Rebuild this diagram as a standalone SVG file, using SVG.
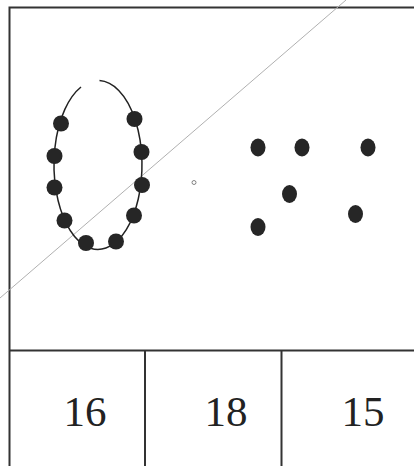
<svg xmlns="http://www.w3.org/2000/svg" width="414" height="466" viewBox="0 0 414 466">
<style>
.frame{fill:none;stroke:#333;stroke-width:2}
.dot{fill:#262626}
.num{font-family:"Liberation Serif",serif;font-size:43px;fill:#222;text-anchor:middle}
.guide{fill:none;stroke:#b0b0b0;stroke-width:1}
</style>
<rect width="414" height="466" fill="#fff"/>
<g id="frame">
<path class="frame" d="M9.5 470V7.5H416M9.5 350.5H416M145 350.5V470M281.5 350.5V470"/>
</g>
<g id="connectors">
<line class="guide" x1="346" y1="0" x2="0" y2="298"/>
</g>
<g id="ellipse-group">
<path fill="none" stroke="#222" stroke-width="1.5" d="M81 87 A44 84.5 0 1 0 99.5 80.5"/>
<circle class="dot" cx="61" cy="123.5" r="8"/>
<circle class="dot" cx="54.5" cy="156" r="8"/>
<circle class="dot" cx="54.5" cy="187.5" r="8"/>
<circle class="dot" cx="64.5" cy="220.5" r="8"/>
<circle class="dot" cx="86" cy="243" r="8"/>
<circle class="dot" cx="116" cy="241.5" r="8"/>
<circle class="dot" cx="134" cy="215.5" r="8"/>
<circle class="dot" cx="142" cy="185" r="8"/>
<circle class="dot" cx="141.5" cy="152" r="8"/>
<circle class="dot" cx="134.5" cy="119" r="8"/>
</g>
<g id="center-point">
<circle cx="194" cy="182.5" r="2" fill="#fff" stroke="#666" stroke-width="0.8"/>
</g>
<g id="scattered-dots">
<ellipse class="dot" cx="258" cy="147.5" rx="7.5" ry="9"/>
<ellipse class="dot" cx="302" cy="147.5" rx="7.5" ry="9"/>
<ellipse class="dot" cx="368" cy="147.5" rx="7.5" ry="9"/>
<ellipse class="dot" cx="289.5" cy="194" rx="7.5" ry="9"/>
<ellipse class="dot" cx="355.5" cy="214" rx="7.5" ry="9"/>
<ellipse class="dot" cx="258" cy="227" rx="7.5" ry="9"/>
</g>
<g id="cell-16"><text class="num" x="85" y="426">16</text></g>
<g id="cell-18"><text class="num" x="226" y="426">18</text></g>
<g id="cell-15"><text class="num" x="363" y="426">15</text></g>
</svg>
